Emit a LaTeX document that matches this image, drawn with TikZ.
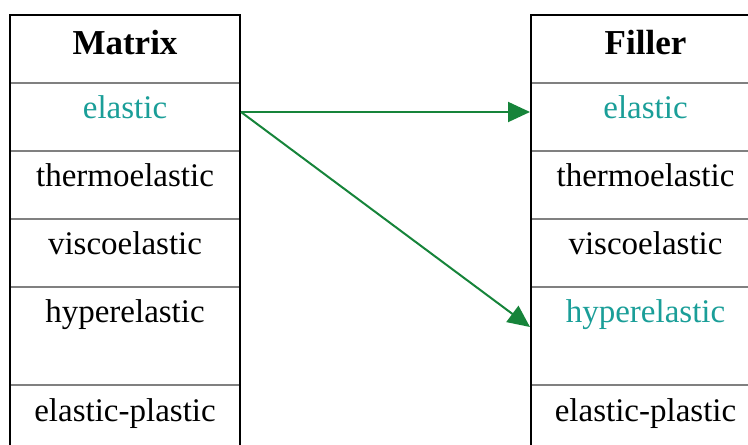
\documentclass[tikz,border=0pt]{standalone}
\usepackage{fontspec}
\setmainfont{Liberation Serif}
\usetikzlibrary{arrows.meta}
\definecolor{tealtxt}{RGB}{26,158,152}
\definecolor{arrgreen}{RGB}{22,132,58}
\definecolor{divgray}{RGB}{128,128,128}
\begin{document}
\begin{tikzpicture}[x=1bp,y=-1bp,
  outer/.style={draw=black,line width=2.6bp},
  divider/.style={draw=divgray,line width=1.6bp},
  celltext/.style={anchor=base,inner sep=0pt,font=\fontsize{33bp}{38bp}\selectfont},
  headtext/.style={anchor=base,inner sep=0pt,font=\fontsize{35bp}{40bp}\selectfont\bfseries},
  link/.style={draw=arrgreen,line width=2bp,-{Triangle[length=22bp,width=20bp]}}]
\useasboundingbox (0,0) rectangle (748,445);
\clip (0,0) rectangle (748,445);
% dividers
\foreach \yy in {83,151,219,287,385}{
  \draw[divider] (10,\yy) -- (240,\yy);
  \draw[divider] (531,\yy) -- (770,\yy);
}
% outer borders
\draw[outer] (10,450) -- (10,15) -- (240,15) -- (240,450);
\draw[outer] (531,450) -- (531,15) -- (770,15);
% left table texts
\node[headtext] (mhead) at (125,55) {Matrix};
\node[celltext,text=tealtxt] (mel) at (125,119) {elastic};
\node[celltext] (mthe) at (125,187) {thermoelastic};
\node[celltext] (mvis) at (125,255) {viscoelastic};
\node[celltext] (mhyp) at (125,323) {hyperelastic};
\node[celltext] (mepl) at (125,421) {elastic-plastic};
% right table texts
\node[headtext] (fhead) at (645.5,55) {Filler};
\node[celltext,text=tealtxt] (fel) at (645.5,119) {elastic};
\node[celltext] (fthe) at (645.5,187) {thermoelastic};
\node[celltext] (fvis) at (645.5,255) {viscoelastic};
\node[celltext,text=tealtxt] (fhyp) at (645.5,323) {hyperelastic};
\node[celltext] (fepl) at (645.5,421) {elastic-plastic};
% connectors
\coordinate (src) at (241,112);
\coordinate (dst1) at (530,112);
\coordinate (dst2) at (530,327);
\draw[link] (src) -- (dst1);
\draw[link] (src) -- (dst2);
\end{tikzpicture}
\end{document}
